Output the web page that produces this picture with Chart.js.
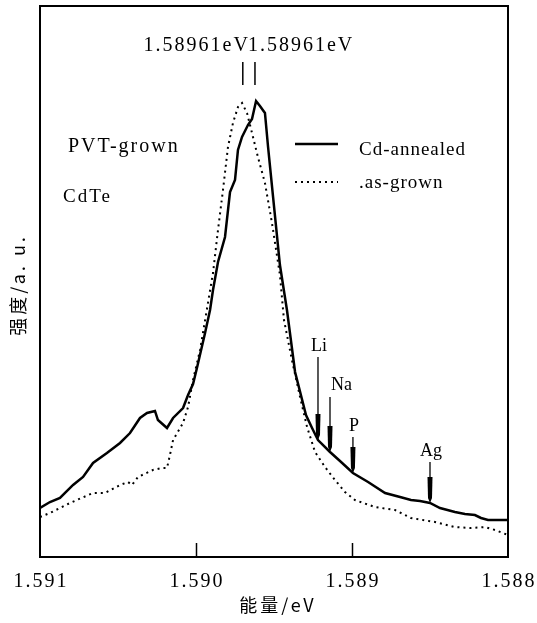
<!DOCTYPE html>
<html>
<head>
<meta charset="utf-8">
<script src="https://cdn.jsdelivr.net/npm/chart.js@4.4.0/dist/chart.umd.min.js"></script>
<style>
  body { margin: 0; background: #fff; }
  #wrap { width: 537px; height: 623px; position: relative; }
</style>
</head>
<body>
<div id="wrap"><canvas id="pl"></canvas></div>
<script>
"use strict";

// photon energy (eV) and intensity (a.u.)
const annealedX = [1.591, 1.590936, 1.590872, 1.590788, 1.590724, 1.59066, 1.590571, 1.590487, 1.590423, 1.590359,
  1.590314, 1.590263, 1.590244, 1.590186, 1.590147, 1.590083, 1.590051, 1.590019, 1.589994, 1.589942,
  1.58991, 1.589891, 1.589859, 1.589814, 1.589782, 1.58975, 1.589731, 1.589705, 1.589667, 1.589641,
  1.589615, 1.58959, 1.589558, 1.589538, 1.589506, 1.589462, 1.589417, 1.589365, 1.589295, 1.589256,
  1.589218, 1.589141, 1.589077, 1.588994, 1.588897, 1.588788, 1.588692, 1.588622, 1.588564, 1.5885,
  1.588436, 1.58834, 1.588276, 1.588212, 1.588173, 1.588128, 1.588064, 1.588];
const annealedY = [8.89, 9.98, 10.71, 13.07, 14.52, 17.06, 18.87, 20.69, 22.5, 25.23,
  26.13, 26.5, 24.86, 23.41, 25.23, 27.04, 29.4, 31.4, 34.3, 40.65,
  44.83, 48.46, 53.54, 58.08, 66.24, 68.42, 73.87, 76.23, 78.4, 79.49,
  82.76, 81.85, 80.58, 74.41, 65.34, 52.99, 44.83, 33.58, 25.77, 23.41,
  21.23, 19.06, 17.42, 15.25, 13.61, 11.62, 10.89, 10.34, 10.16, 9.8,
  8.89, 8.17, 7.8, 7.62, 7.08, 6.72, 6.72, 6.72];

const grownX = [1.591, 1.590936, 1.590808, 1.59066, 1.590583, 1.590487, 1.590436, 1.59041, 1.590372, 1.590276,
  1.590218, 1.590186, 1.590167, 1.590147, 1.590083, 1.590051, 1.590019, 1.589974, 1.589891, 1.589859,
  1.589827, 1.589795, 1.589763, 1.589731, 1.589705, 1.589673, 1.589641, 1.589603, 1.589558, 1.589513,
  1.589462, 1.589436, 1.589385, 1.589333, 1.589288, 1.589237, 1.589173, 1.589109, 1.589045, 1.588981,
  1.588853, 1.588724, 1.588622, 1.588468, 1.58834, 1.588237, 1.588147, 1.588083, 1.588];
const grownY = [7.26, 7.99, 9.8, 11.62, 11.62, 13.07, 13.61, 13.07, 14.52, 15.79,
  16.15, 16.15, 18.51, 21.23, 24.32, 27.22, 32.12, 37.57, 51.54, 59.35,
  66.61, 74.41, 78.77, 81.67, 82.4, 80.58, 76.95, 72.6, 67.88, 60.62,
  51.18, 43.01, 35.75, 29.04, 23.59, 19.06, 16.33, 13.97, 11.8, 10.34,
  9.07, 8.53, 7.08, 6.35, 5.44, 5.26, 5.44, 4.9, 3.99];

const xTickLabels = [1.591, 1.590, 1.589, 1.588];
const xTickMarks = [1.590, 1.589];

// impurity lines: energy, arrow start and tip (intensity)
const impNames = ["Li", "Na", "P", "Ag"];
const impX = [1.589218, 1.589141, 1.588994, 1.5885];
const impTop = [36.3, 29.04, 21.78, 17.24];
const impTip = [21.23, 19.06, 15.25, 9.8];

const peakX = [1.5897, 1.589622];
const peakText = ["1.58961eV", "1.58961eV"];

function pts(xs, ys) {
  return xs.map((x, i) => ({ x: x, y: ys[i] }));
}

const SERIF = '"Liberation Serif", "DejaVu Serif", serif';
const CJK = '"Noto Sans CJK SC", sans-serif';

const decor = {
  id: "decor",
  afterDraw(chart) {
    const ctx = chart.ctx;
    const xs = chart.scales.x;
    const ys = chart.scales.y;
    const a = chart.chartArea;
    ctx.save();
    ctx.strokeStyle = "#000";
    ctx.fillStyle = "#000";

    // frame
    ctx.lineWidth = 2;
    ctx.strokeRect(a.left, a.top, a.right - a.left, a.bottom - a.top);

    // inward tick marks
    ctx.lineWidth = 1.5;
    xTickMarks.forEach(v => {
      const px = Math.round(xs.getPixelForValue(v)) + 0.5;
      ctx.beginPath();
      ctx.moveTo(px, a.bottom);
      ctx.lineTo(px, a.bottom - 14);
      ctx.stroke();
    });

    // tick labels
    ctx.font = "20px " + SERIF;
    ctx.letterSpacing = "2px";
    ctx.textAlign = "center";
    ctx.textBaseline = "alphabetic";
    xTickLabels.forEach(v => {
      ctx.fillText(v.toFixed(3), xs.getPixelForValue(v) + 1, a.bottom + 30);
    });

    // axis titles
    ctx.font = "18px " + CJK;
    ctx.letterSpacing = "3px";
    ctx.fillText("能量/eV", (a.left + a.right) / 2 + 4, 612);
    ctx.save();
    ctx.translate(25, 285);
    ctx.rotate(-Math.PI / 2);
    ctx.fillText("强度/a. u.", 0, 0);
    ctx.restore();

    // peak markers and labels
    ctx.lineWidth = 1.5;
    peakX.forEach(v => {
      const px = xs.getPixelForValue(v);
      ctx.beginPath();
      ctx.moveTo(px, a.top + 56);
      ctx.lineTo(px, a.top + 79);
      ctx.stroke();
    });
    ctx.font = "20px " + SERIF;
    ctx.letterSpacing = "2px";
    const mid = (xs.getPixelForValue(peakX[0]) + xs.getPixelForValue(peakX[1])) / 2;
    ctx.textAlign = "right";
    ctx.fillText(peakText[0], mid + 1, a.top + 45);
    ctx.textAlign = "left";
    ctx.fillText(peakText[1], mid - 1, a.top + 45);

    // sample labels
    ctx.fillText("PVT-grown", 68, 152);
    ctx.font = "19px " + SERIF;
    ctx.fillText("CdTe", 63, 202);

    // legend
    ctx.letterSpacing = "1px";
    ctx.lineWidth = 2.5;
    ctx.beginPath();
    ctx.moveTo(295, 144);
    ctx.lineTo(338, 144);
    ctx.stroke();
    ctx.lineWidth = 2;
    ctx.setLineDash([2, 4]);
    ctx.beginPath();
    ctx.moveTo(295, 182);
    ctx.lineTo(338, 182);
    ctx.stroke();
    ctx.setLineDash([]);
    ctx.fillText("Cd-annealed", 359, 155);
    ctx.fillText(".as-grown", 359, 188);

    // impurity arrows
    ctx.font = "18px " + SERIF;
    ctx.letterSpacing = "0px";
    impNames.forEach((name, i) => {
      const px = xs.getPixelForValue(impX[i]);
      const top = ys.getPixelForValue(impTop[i]);
      const tip = ys.getPixelForValue(impTip[i]);
      ctx.lineWidth = 1.3;
      ctx.beginPath();
      ctx.moveTo(px, top);
      ctx.lineTo(px, tip - 20);
      ctx.stroke();
      ctx.beginPath();
      ctx.moveTo(px - 2.5, tip - 26);
      ctx.lineTo(px + 2.5, tip - 26);
      ctx.lineTo(px + 2, tip - 5);
      ctx.lineTo(px, tip);
      ctx.lineTo(px - 2, tip - 5);
      ctx.closePath();
      ctx.fill();
      if (name === "Na") {
        ctx.textAlign = "left";
        ctx.fillText(name, px + 1, top - 7);
      } else {
        ctx.textAlign = "center";
        ctx.fillText(name, px + 1, top - 6);
      }
    });
    ctx.restore();
  }
};

const chart = new Chart(document.getElementById("pl"), {
  type: "line",
  data: {
    datasets: [
      {
        label: "Cd-annealed",
        data: pts(annealedX, annealedY),
        borderColor: "#000",
        borderWidth: 2.5,
        pointRadius: 0,
        tension: 0,
        fill: false
      },
      {
        label: ".as-grown",
        data: pts(grownX, grownY),
        borderColor: "#000",
        borderWidth: 2,
        borderDash: [2, 4],
        pointRadius: 0,
        tension: 0,
        fill: false
      }
    ]
  },
  options: {
    responsive: true,
    maintainAspectRatio: false,
    animation: false,
    layout: { padding: { left: 40, top: 6, right: 29, bottom: 66 } },
    scales: {
      x: { type: "linear", min: 1.588, max: 1.591, reverse: true, display: false },
      y: { type: "linear", min: 0, max: 100, display: false }
    },
    plugins: { legend: { display: false }, tooltip: { enabled: false } }
  },
  plugins: [decor]
});
</script>
</body>
</html>
